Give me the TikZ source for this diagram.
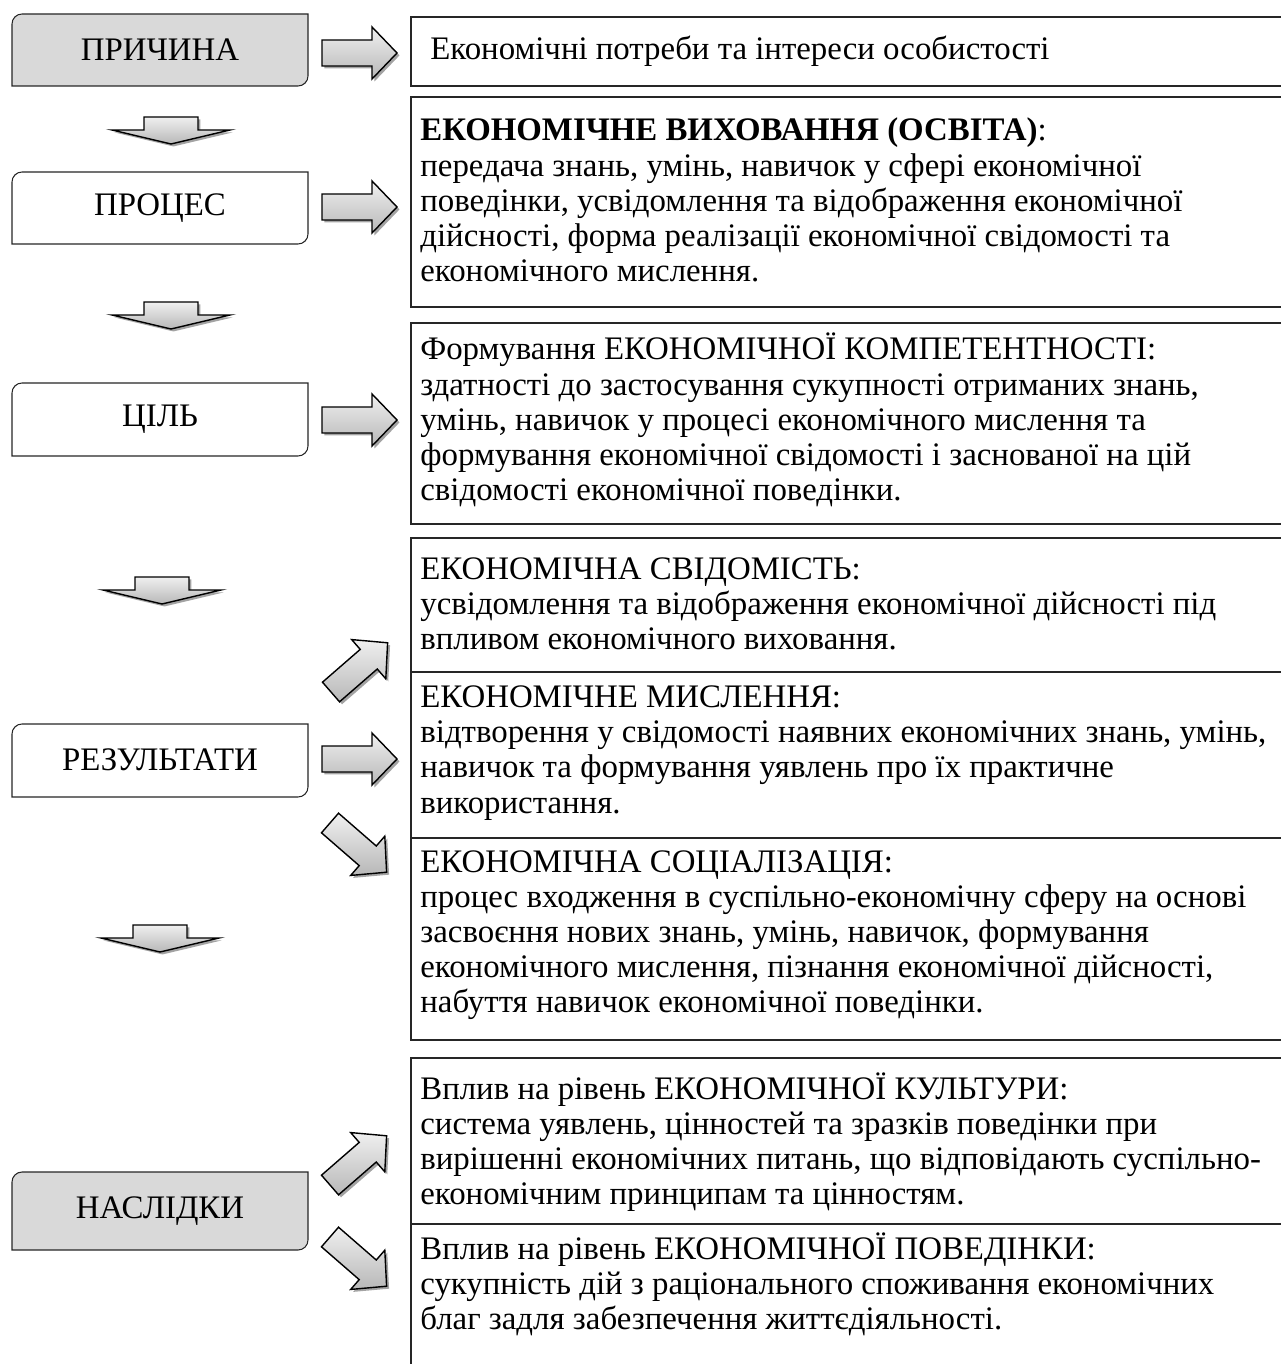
\documentclass[tikz,border=0pt]{standalone}
\usepackage{fontspec}
\setmainfont{Liberation Serif}
\usetikzlibrary{shadows}

\definecolor{stagegray}{HTML}{D9D9D9}

% outline of a stage box: top-left and bottom-right corners rounded
\newcommand{\stageframe}[3]{%
  \draw[stageline, fill=#3] (12,-#2) -- (12,-#1-10)
    arc[start angle=180,end angle=90,radius=10] -- (308,-#1) -- (308,-#2+10)
    arc[start angle=0,end angle=-90,radius=10] -- cycle;}

\begin{document}
\begin{tikzpicture}[x=0.02cm, y=0.02cm,
    stageline/.style={draw=black!85, line width=0.6pt},
    stagelabel/.style={font=\fontsize{18.7}{21}\selectfont},
    infobox/.style={draw=black!85, line width=0.6pt},
    infotext/.style={anchor=west, align=left, inner sep=0pt,
      font=\fontsize{18.7}{20}\selectfont},
    blockarrow/.style={draw=black, line width=0.8pt, top color=black!6,
      bottom color=black!28,
      drop shadow={shadow xshift=1.4pt, shadow yshift=-1.4pt,
        fill=black!45, opacity=0.8}},
    rarrow/.pic={\draw[blockarrow] (0,-13) -- (50,-13) -- (50,-26) -- (75,0)
      -- (50,26) -- (50,13) -- (0,13) -- cycle;},
    darrow/.pic={\draw[blockarrow] (-27,0) -- (27,0) -- (27,-13) -- (59,-13)
      -- (0,-27) -- (-59,-13) -- (-27,-13) -- cycle;}]

    \useasboundingbox (0,0) rectangle (1280,-1364);

    % stages on the left
    \stageframe{14}{86}{stagegray}
    \node[stagelabel] (cause) at (160,-50) {ПРИЧИНА};
    \stageframe{172}{244}{white}
    \node[stagelabel] (process) at (160,-208) {ПРОЦЕС};
    \stageframe{383}{456}{white}
    \node[stagelabel] (goal) at (160,-419) {ЦІЛЬ};
    \stageframe{724}{797}{white}
    \node[stagelabel] (results) at (160,-760) {РЕЗУЛЬТАТИ};
    \stageframe{1172}{1250}{stagegray}
    \node[stagelabel] (effects) at (160,-1211) {НАСЛІДКИ};

    % downward block arrows
    \pic at (171,-117) {darrow};
    \pic at (171,-302) {darrow};
    \pic at (162,-577) {darrow};
    \pic at (160,-925) {darrow};

    % block arrows to the right
    \pic at (322,-53) {rarrow};
    \pic at (322,-207) {rarrow};
    \pic at (322,-420) {rarrow};
    \pic[rotate=41] at (331,-692) {rarrow};
    \pic at (322,-759) {rarrow};
    \pic[rotate=-41] at (330,-823) {rarrow};
    \pic[rotate=41] at (330,-1185) {rarrow};
    \pic[rotate=-41] at (330,-1237) {rarrow};

    % boxes on the right
    \draw[infobox] (411,-17) rectangle (1295,-86);
    \draw[infobox] (411,-97) rectangle (1295,-307);
    \draw[infobox] (411,-323) rectangle (1295,-524);
    \draw[infobox] (411,-538) rectangle (1295,-1040);
    \draw[infobox] (411,-672) -- (1295,-672);
    \draw[infobox] (411,-838) -- (1295,-838);
    \draw[infobox] (411,-1058) rectangle (1295,-1380);
    \draw[infobox] (411,-1224) -- (1295,-1224);

    \node[infotext] (needs) at (430,-51)
      {Економічні потреби та інтереси особистості};
    \node[infotext] (upbringing) at (420,-200)
      {\textbf{ЕКОНОМІЧНЕ ВИХОВАННЯ (ОСВІТА)}:\\
       передача знань, умінь, навичок у сфері економічної\\
       поведінки, усвідомлення та відображення економічної\\
       дійсності, форма реалізації економічної свідомості та\\
       економічного мислення.};
    \node[infotext] (competence) at (420,-420)
      {Формування ЕКОНОМІЧНОЇ КОМПЕТЕНТНОСТІ:\\
       здатності до застосування сукупності отриманих знань,\\
       умінь, навичок у процесі економічного мислення та\\
       формування економічної свідомості і заснованої на цій\\
       свідомості економічної поведінки.};
    \node[infotext] (awareness) at (420,-604)
      {ЕКОНОМІЧНА СВІДОМІСТЬ:\\
       усвідомлення та відображення економічної дійсності під\\
       впливом економічного виховання.};
    \node[infotext] (thinking) at (420,-753)
      {ЕКОНОМІЧНЕ МИСЛЕННЯ:\\
       відтворення у свідомості наявних економічних знань, умінь,\\
       навичок та формування уявлень про їх практичне\\
       використання.};
    \node[infotext] (socialization) at (420,-935)
      {ЕКОНОМІЧНА СОЦІАЛІЗАЦІЯ:\\
       процес входження в суспільно-економічну сферу на основі\\
       засвоєння нових знань, умінь, навичок, формування\\
       економічного мислення, пізнання економічної дійсності,\\
       набуття навичок економічної поведінки.};
    \node[infotext] (culture) at (420,-1142)
      {Вплив на рівень ЕКОНОМІЧНОЇ КУЛЬТУРИ:\\
       система уявлень, цінностей та зразків поведінки при\\
       вирішенні економічних питань, що відповідають суспільно-\\
       економічним принципам та цінностям.};
    \node[infotext] (behaviour) at (420,-1284)
      {Вплив на рівень ЕКОНОМІЧНОЇ ПОВЕДІНКИ:\\
       сукупність дій з раціонального споживання економічних\\
       благ задля забезпечення життєдіяльності.};

\end{tikzpicture}
\end{document}
